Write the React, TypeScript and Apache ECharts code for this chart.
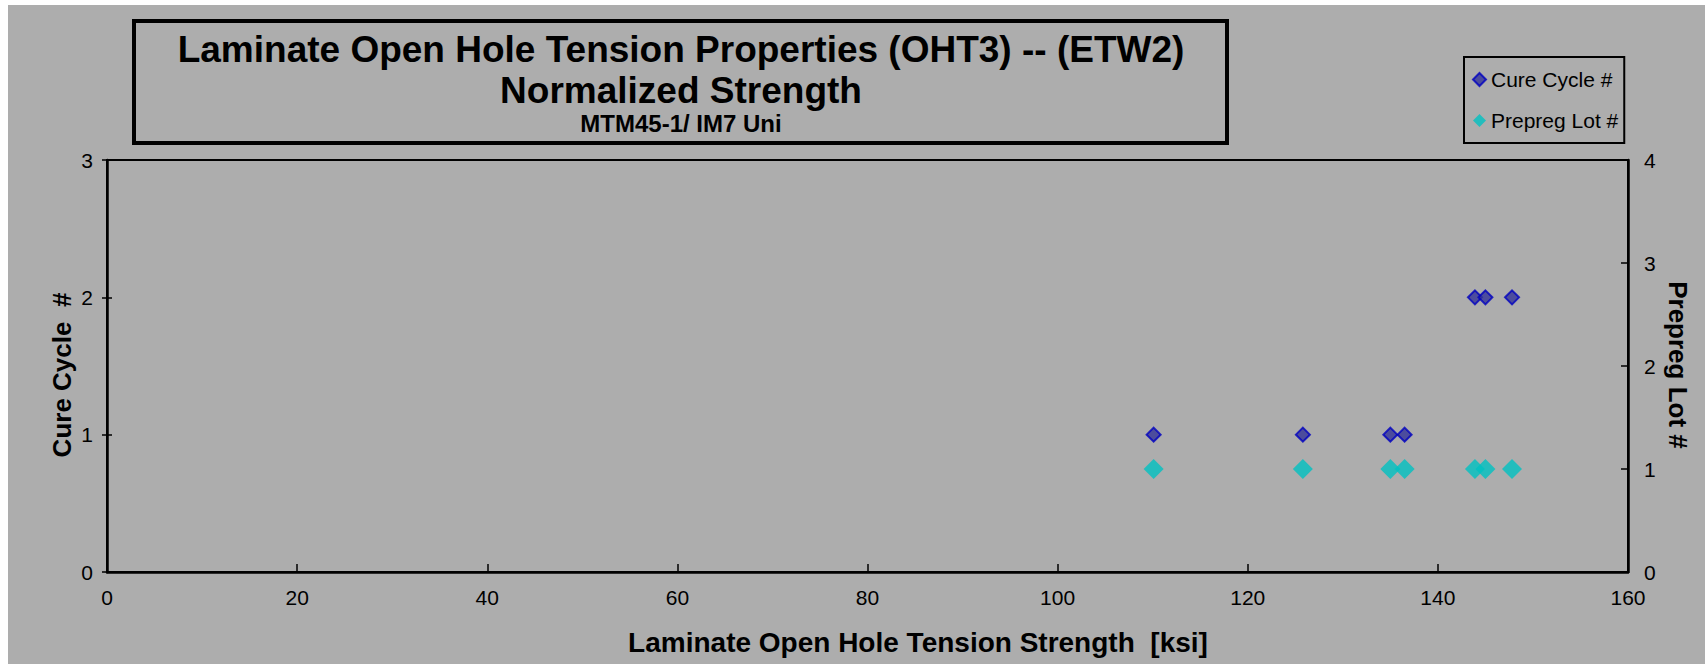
import React, { useEffect, useRef } from "react";
import * as echarts from "echarts";

const titleLines = [
  "Laminate Open Hole Tension Properties (OHT3) -- (ETW2)",
  "Normalized Strength",
  "MTM45-1/ IM7 Uni",
];
const xAxisTitle = "Laminate Open Hole Tension Strength  [ksi]";
const leftAxisTitle = "Cure Cycle  #";
const rightAxisTitle = "Prepreg Lot #";

const seriesNames = ["Cure Cycle #", "Prepreg Lot #"];

// strength [ksi], cure cycle #
const cureCycleStrength = [110.1, 125.8, 135.0, 136.5, 143.9, 145.0, 147.8];
const cureCycleValues = [1, 1, 1, 1, 2, 2, 2];

// strength [ksi], prepreg lot #
const prepregStrength = [110.1, 125.8, 135.0, 136.5, 143.9, 145.0, 147.8];
const prepregValues = [1, 1, 1, 1, 1, 1, 1];

const FONT = "'Liberation Sans', Arial, sans-serif";

export default function App() {
  const ref = useRef<HTMLDivElement>(null);

  useEffect(() => {
    if (!ref.current) return;
    const chart = echarts.init(ref.current, null, { renderer: "svg" });

    const cureData = cureCycleStrength.map((x, i) => [x, cureCycleValues[i]]);
    const lotData = prepregStrength.map((x, i) => [x, prepregValues[i]]);

    chart.setOption({
      animation: false,
      backgroundColor: "#adadad",
      textStyle: { fontFamily: FONT, color: "#000" },
      grid: {
        left: 99,
        right: 77,
        top: 155,
        bottom: 92,
        show: true,
        borderColor: "#000",
        borderWidth: 2,
        backgroundColor: "transparent",
      },
      legend: {
        orient: "vertical",
        left: 1456,
        top: 52,
        padding: [12, 6, 12, 8],
        itemGap: 20,
        itemWidth: 13,
        itemHeight: 13,
        borderColor: "#000",
        borderWidth: 2,
        textStyle: { fontSize: 21, fontFamily: FONT, color: "#000" },
        data: [
          { name: seriesNames[0], icon: "diamond" },
          { name: seriesNames[1], icon: "diamond" },
        ],
      },
      xAxis: {
        type: "value",
        min: 0,
        max: 160,
        interval: 20,
        axisLine: { show: true, lineStyle: { color: "#000", width: 2.5 } },
        axisTick: { show: true, inside: true, length: 8, lineStyle: { color: "#000", width: 1.5 } },
        axisLabel: { fontSize: 21, color: "#000", margin: 15, fontFamily: FONT },
        splitLine: { show: false },
      },
      yAxis: [
        {
          type: "value",
          position: "left",
          min: 0,
          max: 3,
          interval: 1,
          axisLine: { show: true, lineStyle: { color: "#000", width: 2.5 } },
          axisTick: { show: true, inside: false, length: 5, lineStyle: { color: "#000", width: 1.5 } },
          axisLabel: { fontSize: 21, color: "#000", margin: 14, fontFamily: FONT },
          splitLine: { show: false },
        },
        {
          type: "value",
          position: "right",
          min: 0,
          max: 4,
          interval: 1,
          axisLine: { show: true, lineStyle: { color: "#000", width: 2.5 } },
          axisTick: { show: true, inside: true, length: 7, lineStyle: { color: "#000", width: 1.5 } },
          axisLabel: { fontSize: 21, color: "#000", margin: 16, fontFamily: FONT },
          splitLine: { show: false },
        },
        {
          type: "value",
          position: "left",
          min: 0,
          max: 3,
          interval: 1,
          axisLine: { show: false },
          axisTick: { show: true, inside: true, length: 5, lineStyle: { color: "#000", width: 1.5 } },
          axisLabel: { show: false },
          splitLine: { show: false },
        },
      ],
      series: [
        {
          name: seriesNames[0],
          type: "scatter",
          yAxisIndex: 0,
          symbol: "diamond",
          symbolSize: 14,
          itemStyle: { color: "#333399", borderColor: "#0000c0", borderWidth: 2 },
          data: cureData,
          z: 3,
        },
        {
          name: seriesNames[1],
          type: "scatter",
          yAxisIndex: 1,
          symbol: "diamond",
          symbolSize: 20,
          itemStyle: { color: "#00c0c0" },
          data: lotData,
          z: 2,
        },
      ],
      graphic: [
        {
          type: "rect",
          shape: { x: 126, y: 16, width: 1093, height: 122 },
          style: { fill: "none", stroke: "#000", lineWidth: 4 },
        },
        {
          type: "text",
          x: 673,
          y: 44,
          style: {
            text: titleLines[0],
            font: `bold 37px ${FONT}`,
            fill: "#000",
            textAlign: "center",
            textVerticalAlign: "middle",
          },
        },
        {
          type: "text",
          x: 673,
          y: 85,
          style: {
            text: titleLines[1],
            font: `bold 37px ${FONT}`,
            fill: "#000",
            textAlign: "center",
            textVerticalAlign: "middle",
          },
        },
        {
          type: "text",
          x: 673,
          y: 118,
          style: {
            text: titleLines[2],
            font: `bold 24px ${FONT}`,
            fill: "#000",
            textAlign: "center",
            textVerticalAlign: "middle",
          },
        },
        {
          type: "text",
          x: 910,
          y: 637,
          style: {
            text: xAxisTitle,
            font: `bold 28px ${FONT}`,
            fill: "#000",
            textAlign: "center",
            textVerticalAlign: "middle",
          },
        },
        {
          type: "text",
          x: 54,
          y: 370,
          rotation: Math.PI / 2,
          style: {
            text: leftAxisTitle,
            font: `bold 26px ${FONT}`,
            fill: "#000",
            textAlign: "center",
            textVerticalAlign: "middle",
          },
        },
        {
          type: "text",
          x: 1670,
          y: 360,
          rotation: -Math.PI / 2,
          style: {
            text: rightAxisTitle,
            font: `bold 26px ${FONT}`,
            fill: "#000",
            textAlign: "center",
            textVerticalAlign: "middle",
          },
        },
      ],
    });

    return () => chart.dispose();
  }, []);

  return (
    <div
      ref={ref}
      style={{ position: "absolute", left: 8, top: 5, width: 1697, height: 659 }}
    />
  );
}
